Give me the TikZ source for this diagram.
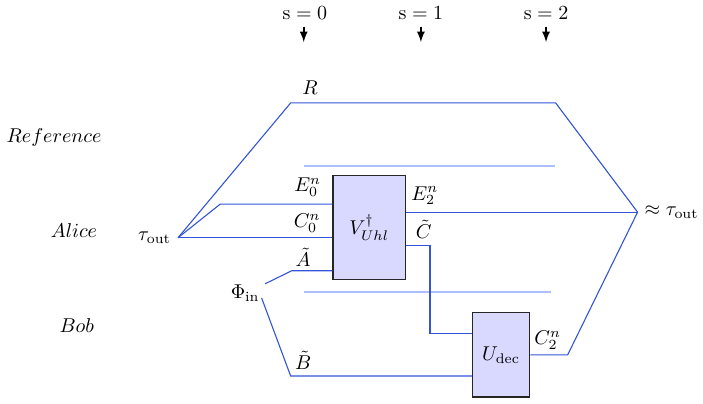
\documentclass[tikz,border=0pt]{standalone}
\usepackage{amsmath}

\definecolor{wirecol}{rgb}{0.2,0.33,0.85}
\definecolor{sepcol}{rgb}{0.68,0.75,1}

\tikzset{
    wire/.style={wirecol, line width=0.55pt},
    sepline/.style={sepcol, thick},
    gatebox/.style={draw=black!85, semithick, fill=blue!15, inner sep=0pt},
    lbl/.style={inner sep=1pt},
}

\begin{document}
\begin{tikzpicture}
        \useasboundingbox (0,0) rectangle (12.36,7.10);

        % time steps
        \node (s0) at (5.36,6.87) {$\mathrm{s}=0$};
        \node (s1) at (7.40,6.87) {$\mathrm{s}=1$};
        \node (s2) at (9.60,6.87) {$\mathrm{s}=2$};
        \coordinate (t0) at (5.34,6.36);
        \coordinate (t1) at (7.40,6.36);
        \coordinate (t2) at (9.60,6.36);
        \draw[-latex, thick] (s0.south -| t0) -- (t0);
        \draw[-latex, thick] (s1.south -| t1) -- (t1);
        \draw[-latex, thick] (s2.south -| t2) -- (t2);

        % parties
        \node (ref) at (0.95,4.69) {$Reference$};
        \node (alice) at (1.30,3.04) {$Alice$};
        \node (bob) at (1.35,1.37) {$Bob$};

        % separators
        \coordinate (sepA) at (5.34,4.18);
        \coordinate (sepAr) at (9.75,4.18);
        \coordinate (sepB) at (5.34,1.97);
        \coordinate (sepBr) at (9.68,1.97);
        \draw[sepline] (sepA) -- (sepAr);
        \draw[sepline] (sepB) -- (sepBr);

        % gates
        \node[gatebox, minimum width=1.27cm, minimum height=1.84cm] (V) at (6.49,3.10) {$V^\dagger_{Uhl}$};
        \node[gatebox, minimum width=1.01cm, minimum height=1.48cm] (U) at (8.81,0.86) {$U_{\text{dec}}$};

        % states
        \coordinate (tau) at (3.13,2.92);
        \coordinate (out) at (11.21,3.37);
        \node[left] (tauin) at (tau) {$\tau_{\text{out}}$};
        \node[right] (tauout) at (out) {$\approx\tau_{\text{out}}$};
        \node (phi) at (4.31,1.95) {$\Phi_{\text{in}}$};
        \coordinate (phia) at (4.66,2.11);
        \coordinate (phib) at (4.60,1.86);

        % bends
        \coordinate (rl) at (5.11,5.29);
        \coordinate (rr) at (9.77,5.29);
        \coordinate (e0) at (3.87,3.51);
        \coordinate (a) at (5.13,2.34);
        \coordinate (b) at (5.11,0.49);
        \coordinate (c) at (7.56,2.78);
        \coordinate (cb) at (7.56,1.23);
        \coordinate (c2) at (9.98,0.86);

        % wires
        \draw[wire] (tau) -- (rl) -- (rr) -- (out);
        \draw[wire] (tau) -- (e0) -- (e0 -| V.west);
        \draw[wire] (tau) -- (tau -| V.west);
        \draw[wire] (phia) -- (a) -- (a -| V.west);
        \draw[wire] (phib) -- (b) -- (b -| U.west);
        \draw[wire] (V.east |- out) -- (out);
        \draw[wire] (V.east |- c) -- (c) -- (cb) -- (cb -| U.west);
        \draw[wire] (U.east |- c2) -- (c2) -- (out);

        % wire labels
        \node[lbl] (lR) at (5.45,5.55) {$R$};
        \node[lbl] (lE0) at (5.41,3.81) {$E_0^n$};
        \node[lbl] (lC0) at (5.40,3.18) {$C_0^n$};
        \node[lbl] (lA) at (5.33,2.58) {$\tilde{A}$};
        \node[lbl] (lB) at (5.33,0.76) {$\tilde{B}$};
        \node[lbl] (lE2) at (7.47,3.66) {$E_2^n$};
        \node[lbl] (lC) at (7.45,3.06) {$\tilde{C}$};
        \node[lbl] (lC2) at (9.63,1.12) {$C_2^n$};
\end{tikzpicture}
\end{document}
